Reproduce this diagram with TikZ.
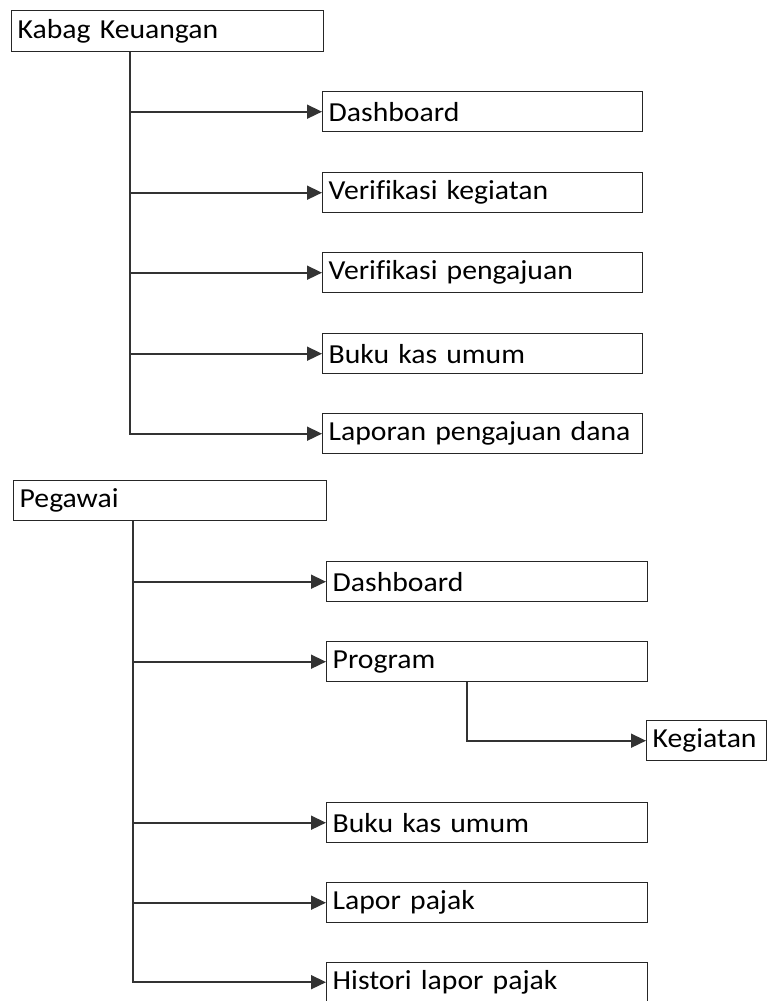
\documentclass[tikz,border=0pt]{standalone}
\usepackage{fontspec}
\setmainfont{Carlito}[Ligatures=NoCommon, FakeStretch=1.08, WordSpace=0.8]
\usetikzlibrary{arrows.meta}
\begin{document}
\begin{tikzpicture}[x=1pt,y=-1pt,
  box/.style={draw=black!85, line width=1.4pt, rectangle, anchor=north west,
    inner xsep=6pt, inner ysep=0pt, align=left,
    font=\fontsize{27.5}{30}\selectfont},
  conn/.style={draw=black!80, line width=1.6pt,
    -{Triangle[length=15pt,width=14pt]}}]
\useasboundingbox (0,0) rectangle (768,1001);

% first menu tree
\node[box, minimum width=312pt, minimum height=41pt, text width=300pt] (kabag) at (11,10) {Kabag Keuangan};
\node[box, minimum width=320pt, minimum height=40pt, text width=308pt] (k1) at (322,91) {Dashboard};
\node[box, minimum width=320pt, minimum height=40pt, text width=308pt] (k2) at (322,172) {Verifikasi kegiatan};
\node[box, minimum width=320pt, minimum height=40pt, text width=308pt] (k3) at (322,252) {Verifikasi pengajuan};
\node[box, minimum width=320pt, minimum height=40pt, text width=308pt] (k4) at (322,333) {Buku kas umum};
\node[box, minimum width=320pt, minimum height=40pt, text width=308pt] (k5) at (322,413) {Laporan pengajuan dana};

\foreach \t in {k1,k2,k3,k4,k5}
  \draw[conn] ([xshift=119pt]kabag.south west) |- (\t.west);

% second menu tree
\node[box, minimum width=313pt, minimum height=40pt, text width=301pt] (peg) at (13,480) {Pegawai};
\node[box, minimum width=321pt, minimum height=40pt, text width=309pt] (p1) at (326,561) {Dashboard};
\node[box, minimum width=321pt, minimum height=40pt, text width=309pt] (p2) at (326,641) {Program};
\node[box, minimum width=120pt, minimum height=40pt, text width=108pt] (p21) at (646,720) {Kegiatan};
\node[box, minimum width=321pt, minimum height=40pt, text width=309pt] (p3) at (326,802) {Buku kas umum};
\node[box, minimum width=321pt, minimum height=40pt, text width=309pt] (p4) at (326,882) {Lapor pajak};
\node[box, minimum width=321pt, minimum height=39pt, text width=309pt] (p5) at (326,962) {Histori lapor pajak};

\foreach \t in {p1,p2,p3,p4,p5}
  \draw[conn] ([xshift=120pt]peg.south west) |- (\t.west);
\draw[conn] ([xshift=141pt]p2.south west) |- (p21.west);
\end{tikzpicture}
\end{document}
